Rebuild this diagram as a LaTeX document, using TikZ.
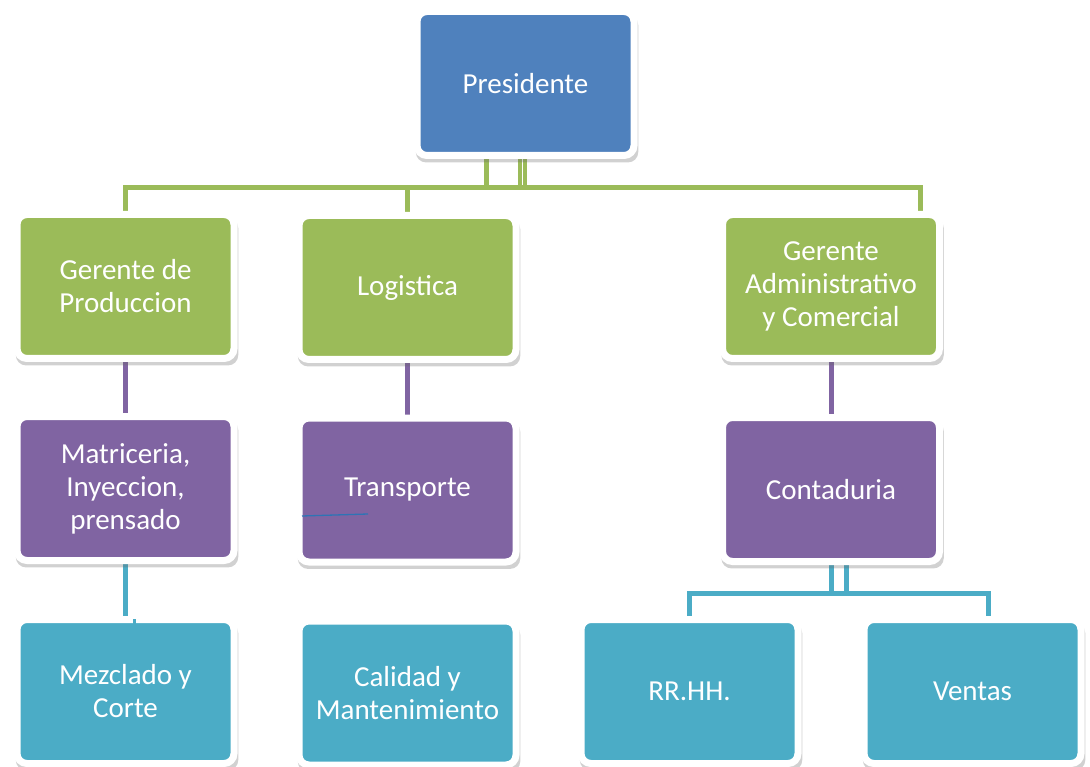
\documentclass[tikz,border=0pt]{standalone}
\usepackage{fontspec}
\setmainfont{Carlito}
\usepackage{tikz}
\usepackage{xcolor}
\usetikzlibrary{shadows,backgrounds}

\definecolor{presblue}{HTML}{4F81BD}
\definecolor{mgrgreen}{HTML}{9BBB59}
\definecolor{deptpurple}{HTML}{8064A2}
\definecolor{unitteal}{HTML}{4BACC6}
\definecolor{strayblue}{HTML}{2E74B5}

\tikzset{
    orgbox/.style={draw=white, line width=7pt, rounded corners=10pt, minimum width=217pt, minimum height=144pt, inner sep=0pt, align=center, text=white, font=\fontsize{29}{33}\selectfont, drop shadow={shadow xshift=1.5pt, shadow yshift=-5pt, shadow scale=1.025, opacity=0.3, fill=black!60}},
    glink/.style={draw=mgrgreen, line width=5pt},
    plink/.style={draw=deptpurple, line width=5pt},
    tlink/.style={draw=unitteal, line width=5pt}
}

\begin{document}
\begin{tikzpicture}[x=1pt, y=-1pt]
                \useasboundingbox (0, 0) rectangle (1090, 767);

                \node[orgbox, fill=presblue] (pres) at (525.5, 83.5) {Presidente};
                \node[orgbox, fill=mgrgreen] (prod) at (125.5, 286.5) {Gerente de\\Produccion};
                \node[orgbox, fill=mgrgreen] (log) at (407.5, 287.5) {Logistica};
                \node[orgbox, fill=mgrgreen] (admin) at (831, 286.5) {Gerente\\Administrativo\\y Comercial};
                \node[orgbox, fill=deptpurple] (mat) at (125.5, 488.5) {Matriceria,\\Inyeccion,\\prensado};
                \node[orgbox, fill=deptpurple] (trans) at (407.5, 490) {Transporte};
                \node[orgbox, fill=deptpurple] (cont) at (831, 489.5) {Contaduria};
                \node[orgbox, fill=unitteal] (mezcl) at (125.5, 691.5) {Mezclado y\\Corte};
                \node[orgbox, fill=unitteal] (cal) at (407.5, 693) {Calidad y\\Mantenimiento};
                \node[orgbox, fill=unitteal] (rrhh) at (689.5, 691.5) {RR.HH.};
                \node[orgbox, fill=unitteal] (vent) at (972.5, 691.5) {Ventas};

                \coordinate (gbus) at (0, 188);
                \coordinate (tbus) at (0, 593.5);
                \coordinate (presl) at ([xshift=-39.5pt]pres.south);
                \coordinate (presm) at ([xshift=-6pt]pres.south);
                \coordinate (presr) at ([xshift=-1pt]pres.south);
                \coordinate (admdrop) at ([xshift=89.5pt]admin.north);
                \coordinate (contdrop) at ([xshift=15.5pt]cont.south);
                \coordinate (ventdrop) at ([xshift=15.5pt]vent.north);
                \coordinate (tickt) at (134, 619);
                \coordinate (tickb) at (134, 628);
                \coordinate (strayl) at (302, 516);
                \coordinate (strayr) at (368, 514);

                \begin{scope}[on background layer]
                \draw[glink]
                (presl) -- (presl |- gbus)
                (log.north) -- (log.north |- gbus)
                (prod.north) -- (prod.north |- gbus) -- (admdrop |- gbus) -- (admdrop);
                \draw[glink, line width=4pt]
                (presm) -- (presm |- gbus)
                (presr) -- (presr |- gbus);
                \draw[plink]
                (prod.south) -- (mat.north)
                (log.south) -- (trans.north)
                (admin.south) -- (cont.north);
                \draw[tlink]
                (mat.south) -- (mezcl.north)
                (cont.south) -- (cont.south |- tbus)
                (contdrop) -- (contdrop |- tbus)
                (rrhh.north) -- (rrhh.north |- tbus) -- (ventdrop |- tbus) -- (ventdrop);
                \end{scope}

                \draw[tlink, line width=3pt] (tickt) -- (tickb);
                \draw[strayblue, line width=1.3pt] (strayl) -- (strayr);
            \end{tikzpicture}
\end{document}
